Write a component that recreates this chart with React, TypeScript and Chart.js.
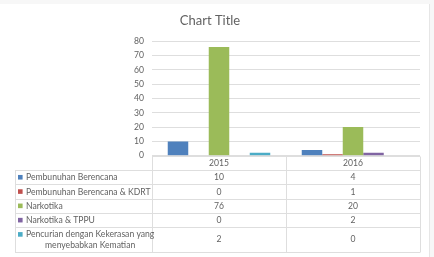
import React, { useEffect, useRef } from "react";
import { Chart, registerables } from "chart.js";

Chart.register(...registerables);

const categories = ["2015", "2016"];
const seriesNames = [
  "Pembunuhan Berencana",
  "Pembunuhan Berencana & KDRT",
  "Narkotika",
  "Narkotika & TPPU",
  "Pencurian dengan Kekerasan yang menyebabkan Kematian",
];
const seriesColors = ["#4F81BD", "#C0504D", "#9BBB59", "#8064A2", "#4BACC6"];
const pembunuhan = [10, 4];
const pembunuhanKdrt = [0, 1];
const narkotika = [76, 20];
const narkotikaTppu = [0, 2];
const pencurian = [2, 0];
const seriesValues = [pembunuhan, pembunuhanKdrt, narkotika, narkotikaTppu, pencurian];
const yTicks = [0, 10, 20, 30, 40, 50, 60, 70, 80];

const FONT = "Lato, 'Open Sans', sans-serif";
const TEXT = "#626262";
const LINE = "#DEDEDE";
const TABLE_FONT_SIZE = 8.6;

const bgPlugin = {
  id: "bgPlugin",
  beforeDraw(chart: any) {
    const ctx = chart.ctx;
    ctx.save();
    ctx.fillStyle = "#F7F7F7";
    ctx.fillRect(0, 0, chart.width, chart.height);
    ctx.fillStyle = "#FFFFFF";
    ctx.fillRect(0, 4, 429, chart.height - 4);
    ctx.strokeStyle = "#E6E6E6";
    ctx.lineWidth = 1;
    ctx.beginPath();
    ctx.moveTo(429.5, 4);
    ctx.lineTo(429.5, chart.height);
    ctx.stroke();
    ctx.restore();
  },
};

const tablePlugin = {
  id: "tablePlugin",
  afterDraw(chart: any) {
    const ctx = chart.ctx;
    const area = chart.chartArea;
    const xs = chart.scales.x;
    const left = area.left;
    const right = area.right;
    const mid = (xs.getPixelForValue(0) + xs.getPixelForValue(1)) / 2;
    const labels: string[] = chart.data.labels;
    const colCenters = labels.map((_, i) => xs.getPixelForValue(i));
    const tableLeft = 15;
    const rowH = 14.3;
    const lastRowH = 24.4;
    const top = area.bottom;
    const rowTops: number[] = [];
    let y = top + rowH;
    const n = chart.data.datasets.length;
    for (let i = 0; i < n; i++) {
      rowTops.push(y);
      y += i === n - 1 ? lastRowH : rowH;
    }
    const bottom = y;

    ctx.save();
    ctx.strokeStyle = LINE;
    ctx.lineWidth = 1;
    ctx.beginPath();
    ctx.moveTo(left, Math.round(top) + 0.5);
    ctx.lineTo(right, Math.round(top) + 0.5);
    for (const rt of rowTops) {
      ctx.moveTo(tableLeft, Math.round(rt) + 0.5);
      ctx.lineTo(right, Math.round(rt) + 0.5);
    }
    ctx.moveTo(tableLeft, Math.round(bottom) + 0.5);
    ctx.lineTo(right, Math.round(bottom) + 0.5);
    ctx.moveTo(tableLeft + 0.5, Math.round(rowTops[0]) + 0.5);
    ctx.lineTo(tableLeft + 0.5, Math.round(bottom) + 0.5);
    for (const vx of [left, mid, right]) {
      ctx.moveTo(Math.round(vx) + 0.5, Math.round(top) + 0.5);
      ctx.lineTo(Math.round(vx) + 0.5, Math.round(bottom) + 0.5);
    }
    ctx.stroke();

    ctx.font = `${TABLE_FONT_SIZE}px ${FONT}`;
    ctx.fillStyle = TEXT;
    ctx.textBaseline = "middle";
    ctx.textAlign = "center";
    labels.forEach((l, j) => ctx.fillText(l, colCenters[j], top + rowH / 2 + 0.3));

    const lineGap = 10.2;
    chart.data.datasets.forEach((ds: any, i: number) => {
      const rt = rowTops[i];
      const h = i === n - 1 ? lastRowH : rowH;
      const cy = rt + h / 2 + 0.3;
      const words = String(ds.label).split(" ");
      const lines: string[] = [];
      let cur = "";
      for (const w of words) {
        const t = cur ? cur + " " + w : w;
        if (ctx.measureText(t).width > 136 && cur) {
          lines.push(cur);
          cur = w;
        } else cur = t;
      }
      if (cur) lines.push(cur);
      const firstY = cy - ((lines.length - 1) * lineGap) / 2;
      ctx.fillStyle = ds.backgroundColor;
      ctx.fillRect(18, firstY - 2.5, 4.6, 4.6);
      ctx.fillStyle = TEXT;
      if (lines.length === 1) {
        ctx.textAlign = "left";
        ctx.fillText(lines[0], 26, firstY);
      } else {
        const maxW = Math.max(...lines.map((l) => ctx.measureText(l).width));
        ctx.textAlign = "center";
        lines.forEach((l, k) => ctx.fillText(l, 26 + maxW / 2, firstY + k * lineGap));
      }
      ctx.textAlign = "center";
      ds.data.forEach((v: number, j: number) => {
        ctx.fillText(String(v), colCenters[j], cy);
      });
    });
    ctx.restore();
  },
};

export default function App() {
  const ref = useRef<HTMLCanvasElement>(null);
  useEffect(() => {
    if (!ref.current) return;
    const chart = new Chart(ref.current, {
      type: "bar",
      data: {
        labels: categories,
        datasets: seriesNames.map((name, i) => ({
          label: name,
          data: seriesValues[i],
          backgroundColor: seriesColors[i],
          borderWidth: 0,
          categoryPercentage: 0.765,
          barPercentage: 1.0,
        })),
      },
      options: {
        animation: false,
        responsive: false,
        devicePixelRatio: 1,
        layout: { padding: { top: 0, left: 0, right: 14, bottom: 0 } },
        plugins: {
          legend: { display: false },
          tooltip: { enabled: false },
          title: {
            display: true,
            text: "Chart Title",
            color: TEXT,
            font: { family: FONT, size: 13, weight: "normal", lineHeight: 1.2 },
            padding: { top: 13.4, bottom: 12.3 },
          },
        },
        scales: {
          x: {
            grid: { display: false },
            border: { display: false },
            ticks: { display: false },
            afterFit(scale: any) {
              scale.height = 101.3;
            },
          },
          y: {
            min: 0,
            max: 80,
            afterBuildTicks(scale: any) {
              scale.ticks = yTicks.map((v) => ({ value: v }));
            },
            grid: { color: LINE, drawTicks: false },
            border: { display: false },
            ticks: { color: TEXT, font: { family: FONT, size: 8.6 }, padding: 8 },
            afterFit(scale: any) {
              scale.width = 152;
            },
          },
        },
      },
      plugins: [bgPlugin, tablePlugin],
    } as any);
    return () => chart.destroy();
  }, []);
  return (
    <div style={{ position: "absolute", left: 0, top: 0, width: 434, height: 257 }}>
      <canvas ref={ref} width={434} height={257} />
    </div>
  );
}
